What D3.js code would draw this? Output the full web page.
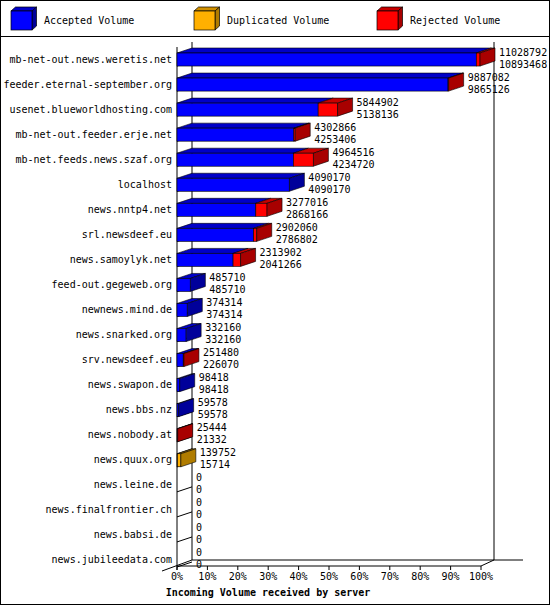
<!DOCTYPE html><html><head><meta charset="utf-8">
<script src="https://cdn.jsdelivr.net/npm/d3@7"></script>
<style>body{margin:0;background:#fff}text{font-family:"DejaVu Sans Mono",monospace;font-size:10px}</style>
</head><body><svg id="c" width="550" height="605"></svg>
<script>
const hosts=["mb-net-out.news.weretis.net","feeder.eternal-september.org","usenet.blueworldhosting.com","mb-net-out.feeder.erje.net","mb-net.feeds.news.szaf.org","localhost","news.nntp4.net","srl.newsdeef.eu","news.samoylyk.net","feed-out.gegeweb.org","newnews.mind.de","news.snarked.org","srv.newsdeef.eu","news.swapon.de","news.bbs.nz","news.nobody.at","news.quux.org","news.leine.de","news.finalfrontier.ch","news.babsi.de","news.jubileedata.com"];
const totalVolume=[11028792,9887082,5844902,4302866,4964516,4090170,3277016,2902060,2313902,485710,374314,332160,251480,98418,59578,25444,139752,0,0,0,0];
const acceptedVolume=[10893468,9865126,5138136,4253406,4234720,4090170,2868166,2786802,2041266,485710,374314,332160,226070,98418,59578,21332,15714,0,0,0,0];
const duplicatedVolume=[0,0,0,0,0,0,0,0,0,0,0,0,0,0,0,0,124038,0,0,0,0];
const rejectedVolume=[135324,21956,706766,49460,729796,0,408850,115258,272636,0,0,0,25410,0,0,4112,0,0,0,0,0];
const tickLabels=["0%","10%","20%","30%","40%","50%","60%","70%","80%","90%","100%"];
const series=[{name:"Accepted Volume",vals:acceptedVolume,f:"#0000ff",t:"#0000c8",s:"#00009a"},
 {name:"Duplicated Volume",vals:duplicatedVolume,f:"#ffb000",t:"#d09000",s:"#b07c00"},
 {name:"Rejected Volume",vals:rejectedVolume,f:"#ff0000",t:"#c80000",s:"#a80000"}];
const svg=d3.select("#c");
const DX=15,DY=5,x0=177,x1=481,yTop=47,yBot=565;
const x=d3.scaleLinear().domain([0,d3.max(totalVolume)]).range([x0,x0+303]);
const xp=d3.scaleLinear().domain([0,100]).range([x0,x1]);
const y=d3.scaleBand().domain(hosts).range([yTop,yTop+526]).paddingInner(0.48).paddingOuter(0.24);
svg.append("rect").attr("x",0.5).attr("y",0.5).attr("width",549).attr("height",604).attr("fill","none").attr("stroke","#000");
svg.append("line").attr("x1",0).attr("x2",550).attr("y1",36.5).attr("y2",36.5).attr("stroke","#000");
function box(g,xx,yy,w,h,c){
 g.append("path").attr("d",`M${xx},${yy}L${xx+DX*0.3},${yy-4}L${xx+w+DX*0.3},${yy-4}L${xx+w},${yy}Z`).attr("fill",c.t).attr("stroke","#000").attr("stroke-width",0.7);
 g.append("path").attr("d",`M${xx+w},${yy}L${xx+w+DX*0.3},${yy-4}L${xx+w+DX*0.3},${yy+h-4}L${xx+w},${yy+h}Z`).attr("fill",c.s).attr("stroke","#000").attr("stroke-width",0.7);
 g.append("rect").attr("x",xx).attr("y",yy).attr("width",w).attr("height",h).attr("fill",c.f).attr("stroke","#000").attr("stroke-width",0.7);
}
series.forEach((s,i)=>{const lx=11+i*183;box(svg,lx,11,21,19,s);
 svg.append("text").attr("x",lx+33).attr("y",24).text(s.name);});
const g=svg.append("g");
const ln=(a,b,c,d)=>g.append("line").attr("x1",a).attr("y1",b).attr("x2",c).attr("y2",d).attr("stroke","#000");
ln(x0+DX,yTop-5,x0+DX,yBot-5);ln(x1+DX-2,yTop-5,x1+DX-2,yBot-5);
ln(x0+DX,yBot-5,523,yBot-5);ln(x0,yTop,x0,yBot+5);ln(x0,yBot+1,x1,yBot+1);
ln(x0-15,yBot+6,x0+DX,yBot-5);ln(x1,yBot+1,x1+DX-2,yBot-5);
tickLabels.forEach((t,i)=>{const xx=xp(i*10);ln(xx,yBot+1,xx,yBot+5);
 g.append("text").attr("x",xx).attr("y",yBot+15).attr("text-anchor","middle").text(t);});
svg.append("text").attr("x",268).attr("y",596).attr("text-anchor","middle").attr("font-weight","bold").text("Incoming Volume received by server");
hosts.forEach((h,i)=>{
 const yt=y(h),bh=y.bandwidth(),yc=yt+bh/2;
 svg.append("text").attr("x",172).attr("y",yc+3).attr("text-anchor","end").text(h);
 ln(x0,yt+bh,x0+DX,yt+bh-DY);
 let cum=0,last=null;
 series.forEach(s=>{const v=s.vals[i];if(v<=0)return;
  const a=x(cum),b=x(cum+v);cum+=v;last={b,s};
  svg.append("path").attr("d",`M${a},${yt}L${a+DX},${yt-DY}L${b+DX},${yt-DY}L${b},${yt}Z`).attr("fill",s.t).attr("stroke","#000").attr("stroke-width",0.6);
  svg.append("rect").attr("x",a).attr("y",yt).attr("width",b-a).attr("height",bh).attr("fill",s.f).attr("stroke","#000").attr("stroke-width",0.6);
 });
 if(last){const b=last.b;svg.append("path").attr("d",`M${b},${yt}L${b+DX},${yt-DY}L${b+DX},${yt+bh-DY}L${b},${yt+bh}Z`).attr("fill",last.s.s).attr("stroke","#000").attr("stroke-width",0.6);}
 const tx=x(totalVolume[i])+DX+4;
 svg.append("text").attr("x",tx).attr("y",yc-4).text(totalVolume[i]);
 svg.append("text").attr("x",tx).attr("y",yc+8).text(acceptedVolume[i]);
});
</script></body></html>
